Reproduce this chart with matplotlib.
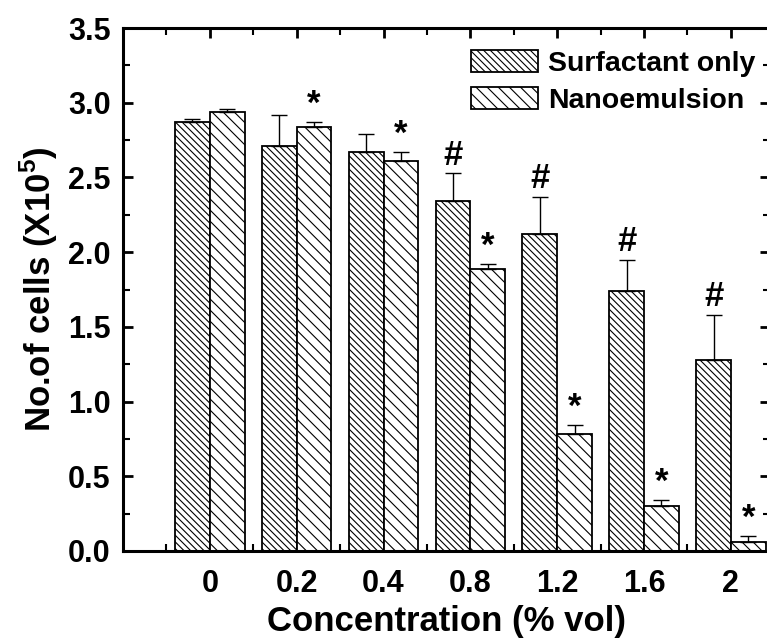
import numpy as np
import matplotlib
matplotlib.use("Agg")
import matplotlib.pyplot as plt
from matplotlib.ticker import MultipleLocator, FixedLocator

plt.rcParams['font.family'] = ['Liberation Sans', 'DejaVu Sans']
plt.rcParams['font.weight'] = 'bold'
plt.rcParams['mathtext.fontset'] = 'custom'
plt.rcParams['mathtext.rm'] = 'Liberation Sans:bold'
plt.rcParams['mathtext.bf'] = 'Liberation Sans:bold'
plt.rcParams['hatch.linewidth'] = 0.8

# concentration (% vol)
conc = ['0', '0.2', '0.4', '0.8', '1.2', '1.6', '2']
surf = [2.87, 2.71, 2.67, 2.34, 2.12, 1.74, 1.28]
surf_err = [0.02, 0.21, 0.12, 0.19, 0.25, 0.21, 0.30]
nano = [2.94, 2.84, 2.61, 1.89, 0.78, 0.30, 0.06]
nano_err = [0.02, 0.03, 0.06, 0.03, 0.06, 0.04, 0.04]
surf_mark = ['', '', '', '#', '#', '#', '#']
nano_mark = ['', '*', '*', '*', '*', '*', '*']

fig = plt.figure(figsize=(7.67, 6.38), dpi=100)
ax = fig.add_axes([123/767, 87/638, 647/767, 523/638])

x = np.arange(len(conc))
w = 0.4
zeros = np.zeros(len(conc))
ax.bar(x - w/2, surf, w, color='white', edgecolor='black', linewidth=1.3,
       hatch='\\\\\\\\\\', label='Surfactant only', zorder=2,
       yerr=[zeros, surf_err], error_kw=dict(ecolor='black', elinewidth=1, capsize=6, capthick=1))
ax.bar(x + w/2, nano, w, color='white', edgecolor='black', linewidth=1.3,
       hatch='\\\\\\', label='Nanoemulsion', zorder=2,
       yerr=[zeros, nano_err], error_kw=dict(ecolor='black', elinewidth=1, capsize=6, capthick=1))

for i in range(len(conc)):
    if surf_mark[i]:
        ax.text(x[i] - w/2, surf[i] + surf_err[i] + 0.12, surf_mark[i],
                ha='center', va='center', fontsize=25, fontweight='bold')
    if nano_mark[i]:
        ax.text(x[i] + w/2, nano[i] + nano_err[i] + 0.12, nano_mark[i],
                ha='center', va='center', fontsize=25, fontweight='bold')

ax.set_xlim(-1, 6.45)
ax.set_ylim(0, 3.5)
ax.set_xticks(x)
ax.set_xticklabels(conc)
ax.xaxis.set_minor_locator(FixedLocator(np.arange(-0.5, 7, 1)))
ax.yaxis.set_major_locator(MultipleLocator(0.5))
ax.yaxis.set_minor_locator(MultipleLocator(0.25))
ax.yaxis.set_major_formatter(matplotlib.ticker.FormatStrFormatter('%.1f'))

for s in ax.spines.values():
    s.set_linewidth(2.2)
ax.tick_params(which='both', direction='in', top=True, right=True)
ax.tick_params(which='major', length=7, width=2, labelsize=22, pad=9)
ax.tick_params(which='minor', length=5, width=1.5)
ax.tick_params(axis='x', which='major', pad=13)

ax.set_xlabel('Concentration (% vol)', fontsize=25, fontweight='bold', labelpad=4)
ax.set_ylabel(r'No.of cells (X10$^{5}$)', fontsize=25, fontweight='bold', labelpad=6)

ax.legend(loc='upper right', bbox_to_anchor=(1.004, 0.99), frameon=False,
          handlelength=2.35, handleheight=0.8, handletextpad=0.35,
          labelspacing=0.35, borderaxespad=0.2, prop={'weight': 'bold', 'size': 20.5})

fig.savefig('out.png', dpi=100)
